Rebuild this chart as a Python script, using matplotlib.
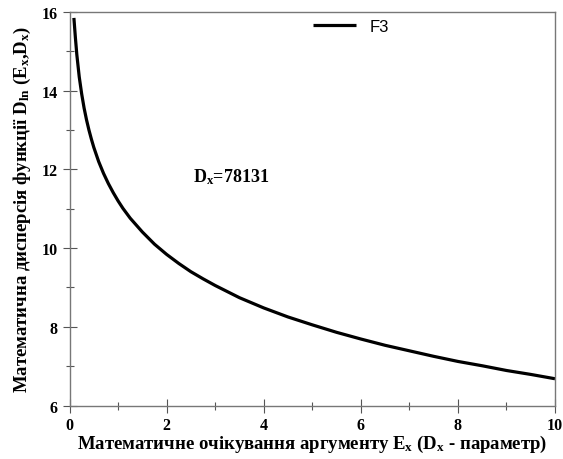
import matplotlib
matplotlib.use("Agg")
import matplotlib.pyplot as plt
from matplotlib.ticker import MultipleLocator

plt.rcParams['mathtext.fontset'] = 'custom'
plt.rcParams['mathtext.rm'] = 'Liberation Serif:bold'
plt.rcParams['mathtext.it'] = 'Liberation Serif:bold'
plt.rcParams['mathtext.bf'] = 'Liberation Serif:bold'

# Data
ex = [0.09, 0.12, 0.15, 0.2, 0.25, 0.3, 0.35, 0.4, 0.45, 0.5, 0.6, 0.7, 0.8, 0.9,
      1.0, 1.1, 1.25, 1.5, 1.75, 2.0, 2.25, 2.5, 2.75, 3.0, 3.5, 4.0, 4.5, 5.0,
      5.5, 6.0, 6.5, 7.0, 7.5, 8.0, 8.5, 9.0, 9.5, 10.0]
f3 = [15.85, 15.36, 14.92, 14.35, 13.92, 13.56, 13.26, 13.0, 12.77, 12.56, 12.2, 11.9, 11.64, 11.41,
      11.2, 11.01, 10.76, 10.41, 10.1, 9.84, 9.61, 9.4, 9.22, 9.05, 8.74, 8.48, 8.25, 8.05,
      7.86, 7.69, 7.53, 7.39, 7.25, 7.12, 7.01, 6.89, 6.79, 6.68]
series_name = "F3"
annotation = r"$\mathrm{D_{x}}$=78131"
xlabel = r"Математичне очікування аргументу $\mathrm{E_{x}}$ ($\mathrm{D_{x}}$ - параметр)"
ylabel = r"Математична дисперсія функції $\mathrm{D_{ln}}$ ($\mathrm{E_{x}}$,$\mathrm{D_{x}}$)"

fig = plt.figure(figsize=(5.63, 4.6), dpi=100)
ax = fig.add_axes([0.1235, 0.1163, 0.8623, 0.8554])

ax.plot(ex, f3, color='black', lw=2.3, label=series_name, solid_capstyle='butt',
        solid_joinstyle='round')

ax.set_xlim(0, 10)
ax.set_ylim(6, 16)
ax.xaxis.set_major_locator(MultipleLocator(2))
ax.xaxis.set_minor_locator(MultipleLocator(1))
ax.yaxis.set_major_locator(MultipleLocator(2))
ax.yaxis.set_minor_locator(MultipleLocator(1))
ax.tick_params(which='major', direction='inout', length=10, width=0.8, color='#555555')
ax.tick_params(which='minor', direction='inout', length=6, width=0.8, color='#555555')
ax.tick_params(axis='x', which='major', pad=3)
for s in ax.spines.values():
    s.set_color('#777777')
    s.set_linewidth(1.0)

tfont = dict(family='Liberation Serif', weight='bold', size=11.5)
for lab in ax.get_xticklabels() + ax.get_yticklabels():
    lab.set_fontproperties(matplotlib.font_manager.FontProperties(**tfont))

ax.set_xlabel(xlabel, family='Liberation Serif', weight='bold', size=13.5, labelpad=0)
ax.set_ylabel(ylabel, family='Liberation Serif', weight='bold', size=13.5, labelpad=6)

ax.text(2.55, 11.7, annotation, family='Liberation Serif', weight='bold', size=13)

leg = ax.legend(loc='upper left', bbox_to_anchor=(0.47, 1.02), frameon=False,
                handlelength=2.6, prop=dict(family='Liberation Sans', size=12))

fig.savefig('out.png', dpi=100)
